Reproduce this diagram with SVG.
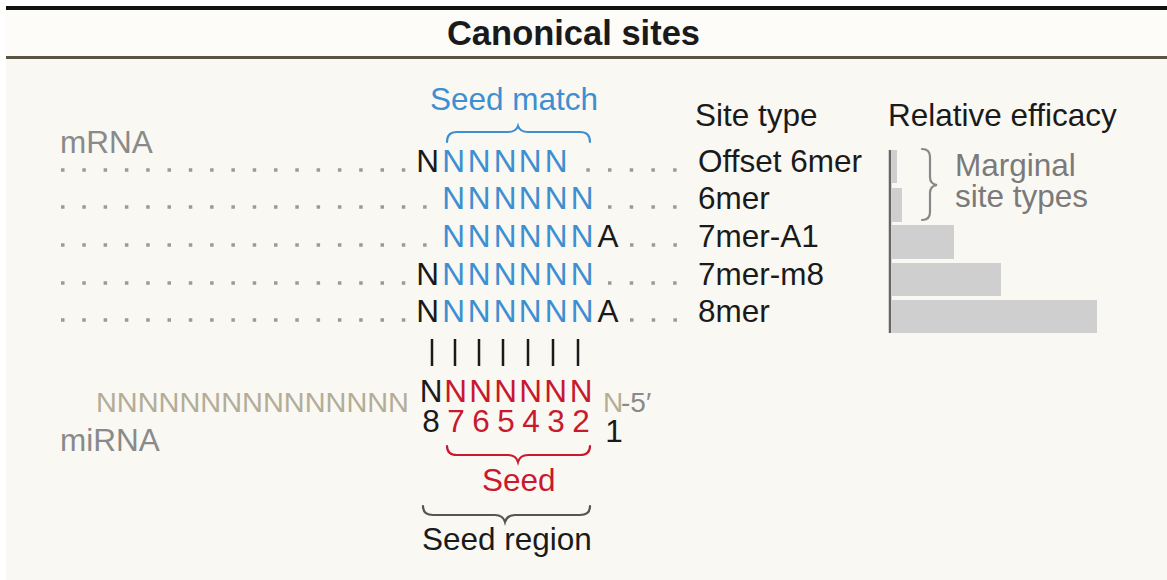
<svg xmlns="http://www.w3.org/2000/svg" width="1167" height="580" viewBox="0 0 1167 580">
<style>
text{font-family:"Liberation Sans",Arial,sans-serif;}
.t{font-size:31.5px;fill:#1a1a1a;}
.blue{fill:#3d8fd1;}
.red{fill:#c8192f;}
.khaki{fill:#b3ad98;}
.gray{fill:#8a8a8a;}
.dots{stroke:#9a9a9a;stroke-width:3.5;stroke-dasharray:3.5 17.8;fill:none;}
.rdots{stroke:#9a9a9a;stroke-width:3.5;stroke-dasharray:3.5 18.2;fill:none;}
.bar{fill:#cfcfcf;}
.brace{fill:none;stroke-width:2.2;stroke-linecap:round;}
</style>
<rect x="0" y="0" width="1167" height="580" fill="#ffffff"/>
<rect x="6" y="8" width="1161" height="572" fill="#faf8f3"/>
<rect x="6" y="8" width="1161" height="49" fill="#fdfcf9"/>
<line x1="6" y1="8" x2="1167" y2="8" stroke="#111" stroke-width="4"/>
<line x1="6" y1="57.5" x2="1167" y2="57.5" stroke="#5b5446" stroke-width="3"/>
<text x="573.5" y="45" text-anchor="middle" font-size="34.5" font-weight="bold" fill="#1a1a1a">Canonical sites</text>

<g id="labels">
<text class="t gray" x="60" y="153">mRNA</text>
<text class="t gray" x="60" y="451">miRNA</text>
<text class="t blue" x="430" y="110">Seed match</text>
<text class="t" x="695" y="126">Site type</text>
<text class="t" x="888" y="126">Relative efficacy</text>
</g>

<g id="connectors">
<path class="brace" stroke="#3d8fd1" d="M447,142 Q447,132 457,132 L508,132 Q516,132 518,126 Q520,132 528,132 L580,132 Q590,132 590,142"/>
<g stroke="#1a1a1a" stroke-width="2.5">
<line x1="432" y1="339" x2="432" y2="366"/>
<line x1="455" y1="339" x2="455" y2="366"/>
<line x1="479" y1="339" x2="479" y2="366"/>
<line x1="503" y1="339" x2="503" y2="366"/>
<line x1="528" y1="339" x2="528" y2="366"/>
<line x1="553" y1="339" x2="553" y2="366"/>
<line x1="578" y1="339" x2="578" y2="366"/>
</g>
<path class="brace" stroke="#c8192f" d="M447,446 Q447,455 457,455 L508,455 Q516,455 518,462 Q520,455 528,455 L580,455 Q590,455 590,446"/>
<path class="brace" stroke="#555" d="M423,506 Q423,515 433,515 L495,515 Q503,515 505,522 Q507,515 515,515 L580,515 Q590,515 590,506"/>
<path class="brace" stroke="#888" d="M922,149 Q930,149 930,157 L930,177 Q930,184 937,185 Q930,186 930,193 L930,212 Q930,220 922,220"/>
</g>

<g id="row-offset6mer">
<line class="dots" x1="61" y1="170" x2="406" y2="170"/>
<text class="t" text-anchor="middle" x="427.5" y="172">N</text>
<text class="t blue" text-anchor="middle" x="453.5 479 505 530 556" y="172">NNNNN</text>
<line class="rdots" x1="586.3" y1="170" x2="678" y2="170"/>
<text class="t" x="698" y="172">Offset 6mer</text>
</g>
<g id="row-6mer">
<line class="dots" x1="61" y1="207" x2="427" y2="207"/>
<text class="t blue" text-anchor="middle" x="453.5 479 505 530 556 582" y="209">NNNNNN</text>
<line class="rdots" x1="608" y1="207" x2="678" y2="207"/>
<text class="t" x="698" y="209">6mer</text>
</g>
<g id="row-7merA1">
<line class="dots" x1="61" y1="245" x2="427" y2="245"/>
<text class="t blue" text-anchor="middle" x="453.5 479 505 530 556 582" y="247">NNNNNN</text>
<text class="t" text-anchor="middle" x="608" y="247">A</text>
<line class="rdots" x1="630" y1="245" x2="678" y2="245"/>
<text class="t" x="698" y="247">7mer-A1</text>
</g>
<g id="row-7merm8">
<line class="dots" x1="61" y1="283" x2="406" y2="283"/>
<text class="t" text-anchor="middle" x="427.5" y="285">N</text>
<text class="t blue" text-anchor="middle" x="453.5 479 505 530 556 582" y="285">NNNNNN</text>
<line class="rdots" x1="608" y1="283" x2="678" y2="283"/>
<text class="t" x="698" y="285">7mer-m8</text>
</g>
<g id="row-8mer">
<line class="dots" x1="61" y1="320" x2="406" y2="320"/>
<text class="t" text-anchor="middle" x="427.5" y="322">N</text>
<text class="t blue" text-anchor="middle" x="453.5 479 505 530 556 582" y="322">NNNNNN</text>
<text class="t" text-anchor="middle" x="608" y="322">A</text>
<line class="rdots" x1="630" y1="320" x2="678" y2="320"/>
<text class="t" x="698" y="322">8mer</text>
</g>

<g id="mirna">
<text class="khaki" x="96" y="412" font-size="27.5" textLength="313" lengthAdjust="spacingAndGlyphs">NNNNNNNNNNNNNNN</text>
<text class="t" text-anchor="middle" x="431" y="402">N</text>
<text class="t red" text-anchor="middle" x="455.5 480.5 505.5 530.5 555.5 581" y="402">NNNNNN</text>
<text class="khaki" x="603" y="412" font-size="28">N</text>
<text class="gray" x="621" y="412" font-size="28">-5′</text>
<text class="t" text-anchor="middle" x="431" y="432">8</text>
<text class="t red" text-anchor="middle" x="456 481 506 531 556 581" y="432">765432</text>
<text class="t" text-anchor="middle" x="614" y="442">1</text>
</g>

<g id="seed">
<text class="t red" x="482" y="491">Seed</text>
</g>
<g id="seed-region">
<text class="t" x="422" y="550">Seed region</text>
</g>

<g id="efficacy-chart">
<rect class="bar" x="892" y="150" width="5" height="33"/>
<rect class="bar" x="892" y="188" width="10" height="34"/>
<rect class="bar" x="892" y="225" width="62" height="34"/>
<rect class="bar" x="892" y="263" width="109" height="33"/>
<rect class="bar" x="892" y="300" width="205" height="33"/>
<line x1="890" y1="150" x2="890" y2="333" stroke="#666" stroke-width="2.5"/>
<text class="t" x="955" y="176" style="fill:#7a7a7a">Marginal</text>
<text class="t" x="955" y="207" style="fill:#7a7a7a">site types</text>
</g>
</svg>
